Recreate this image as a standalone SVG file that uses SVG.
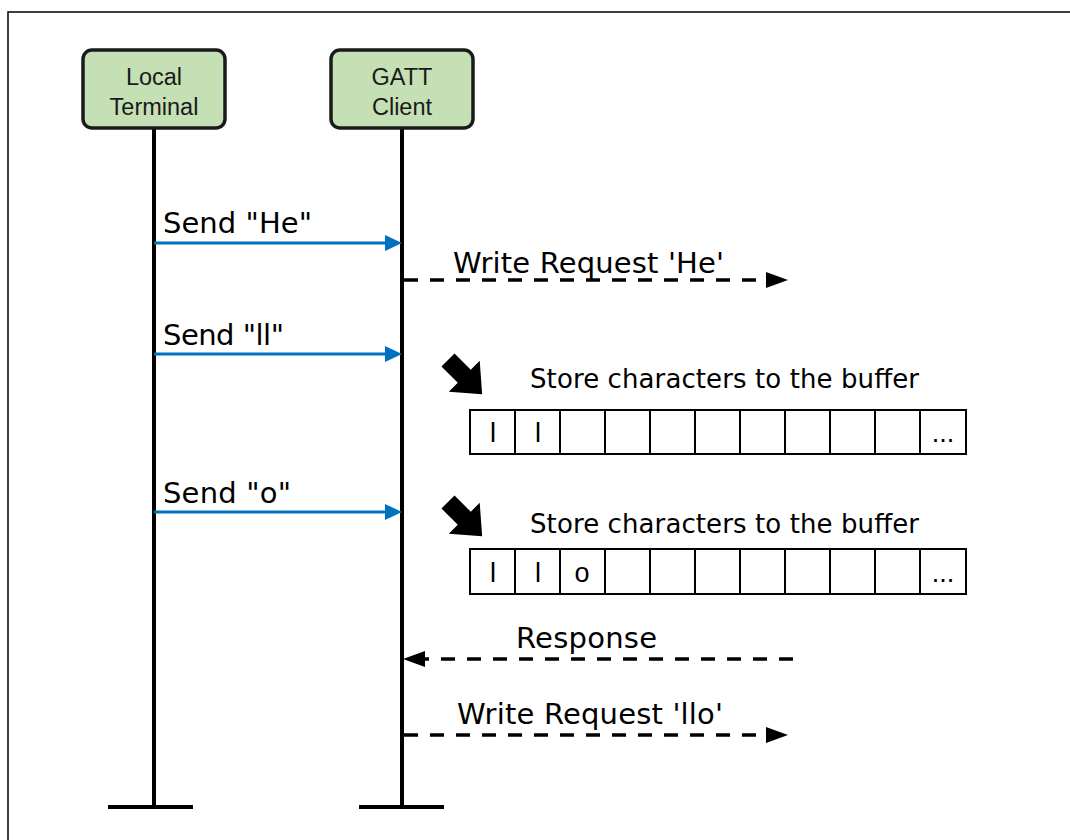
<svg xmlns="http://www.w3.org/2000/svg" width="1070" height="840" viewBox="0 0 1070 840">
<style>
.box{fill:#c5e0b4;stroke:#1a1a1a;stroke-width:3.5}
.hdr{font-family:"Liberation Sans",Arial,sans-serif;font-size:23.5px;fill:#1a1a1a;text-anchor:middle}
.life{stroke:#000;stroke-width:4;fill:none}
.msg{font-family:"DejaVu Sans",Verdana,sans-serif;font-size:29px;fill:#000}
.store{font-family:"DejaVu Sans",Verdana,sans-serif;font-size:26px;fill:#000}
.blue{stroke:#0070c0;stroke-width:3;fill:none;marker-end:url(#ab)}
.dash{stroke:#000;stroke-width:3.5;fill:none;stroke-dasharray:14 12;marker-end:url(#ak)}
.cell{fill:#fff;stroke:#000;stroke-width:2}
.ct{font-family:"Liberation Sans",Arial,sans-serif;font-size:27px;fill:#000;text-anchor:middle}
.fat{fill:#000}
</style>
<defs>
<marker id="ab" markerUnits="userSpaceOnUse" markerWidth="17" markerHeight="16" refX="9" refY="8" orient="auto">
<path d="M0,0 L17,8 L0,16 z" fill="#0070c0"/>
</marker>
<marker id="ak" markerUnits="userSpaceOnUse" markerWidth="22" markerHeight="16" refX="8" refY="8" orient="auto">
<path d="M0,0 L22,8 L0,16 z" fill="#000"/>
</marker>
</defs>
<rect x="8" y="12" width="1080" height="850" fill="#fff" stroke="#111" stroke-width="1.6"/>

<g id="local-terminal">
<line class="life" x1="154" y1="128" x2="154" y2="807"/>
<line class="life" x1="108" y1="807" x2="193" y2="807"/>
<rect class="box" x="83" y="50" width="142" height="78" rx="9"/>
<text class="hdr" x="154" y="85">Local</text>
<text class="hdr" x="154" y="115">Terminal</text>
</g>

<g id="gatt-client">
<line class="life" x1="402" y1="128" x2="402" y2="807"/>
<line class="life" x1="359" y1="807" x2="444" y2="807"/>
<rect class="box" x="331" y="50" width="142" height="78" rx="9"/>
<text class="hdr" x="402" y="85">GATT</text>
<text class="hdr" x="402" y="115">Client</text>
</g>

<g id="connectors">
<line class="blue" x1="154" y1="243" x2="394" y2="243"/>
<line class="blue" x1="154" y1="354" x2="394" y2="354"/>
<line class="blue" x1="154" y1="512" x2="394" y2="512"/>
<line class="dash" x1="404" y1="280" x2="774" y2="280"/>
<line class="dash" x1="793" y1="659" x2="417" y2="659"/>
<line class="dash" x1="404" y1="735" x2="774" y2="735"/>
</g>

<g id="labels">
<text class="msg" x="163" y="233" textLength="149" lengthAdjust="spacing">Send "He"</text>
<text class="msg" x="163" y="345" textLength="121" lengthAdjust="spacing">Send "ll"</text>
<text class="msg" x="163" y="503" textLength="128" lengthAdjust="spacing">Send "o"</text>
<text class="msg" x="453" y="273" textLength="271" lengthAdjust="spacing">Write Request 'He'</text>
<text class="msg" x="516" y="648" textLength="141" lengthAdjust="spacing">Response</text>
<text class="msg" x="457" y="724" textLength="266" lengthAdjust="spacing">Write Request 'llo'</text>
</g>

<g id="store-1">
<path class="fat" transform="translate(448,360) rotate(45) scale(1.15)" d="M0,-8 L20,-8 L20,-19 L42,0 L20,19 L20,8 L0,8 z"/>
<text class="store" x="530" y="388" textLength="389" lengthAdjust="spacing">Store characters to the buffer</text>
<g id="buffer-1">
<rect class="cell" x="470" y="410" width="496" height="44"/>
<path d="M515,410V454M560,410V454M605,410V454M650,410V454M695,410V454M740,410V454M785,410V454M830,410V454M875,410V454M920,410V454" stroke="#000" stroke-width="2"/>
<text class="ct" x="493" y="442">l</text>
<text class="ct" x="538" y="442">l</text>
<text class="ct" x="943" y="442">...</text>
</g>
</g>

<g id="store-2">
<path class="fat" transform="translate(448,502) rotate(45) scale(1.15)" d="M0,-8 L20,-8 L20,-19 L42,0 L20,19 L20,8 L0,8 z"/>
<text class="store" x="530" y="533" textLength="389" lengthAdjust="spacing">Store characters to the buffer</text>
<g id="buffer-2">
<rect class="cell" x="470" y="549" width="496" height="45"/>
<path d="M515,549V594M560,549V594M605,549V594M650,549V594M695,549V594M740,549V594M785,549V594M830,549V594M875,549V594M920,549V594" stroke="#000" stroke-width="2"/>
<text class="ct" x="493" y="582">l</text>
<text class="ct" x="538" y="582">l</text>
<text class="ct" x="582" y="582">o</text>
<text class="ct" x="943" y="582">...</text>
</g>
</g>
</svg>
